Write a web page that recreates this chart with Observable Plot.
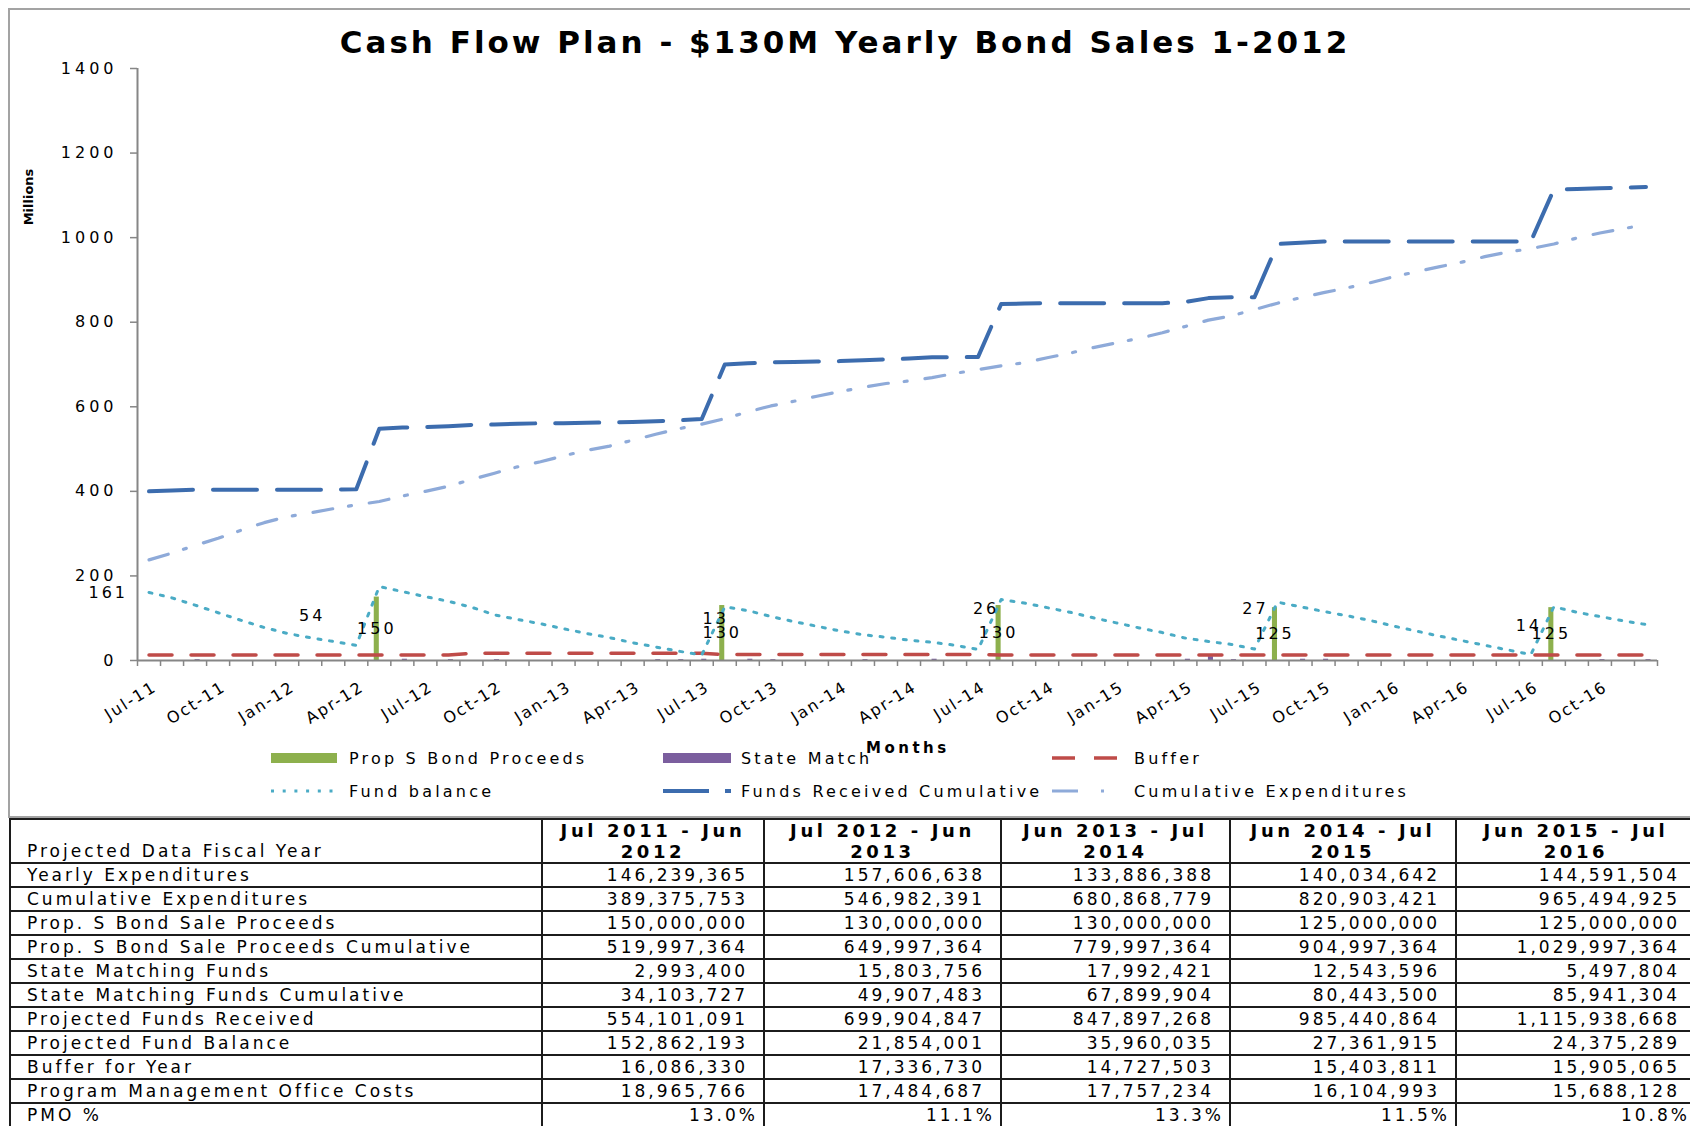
<!DOCTYPE html>
<html>
<head>
<meta charset="utf-8">
<script src="https://cdn.jsdelivr.net/npm/d3@7"></script>
<script src="https://cdn.jsdelivr.net/npm/@observablehq/plot@0.6"></script>
<style>
  html, body { margin: 0; padding: 0; background: #fff; }
  #page { position: relative; width: 1690px; height: 1126px; overflow: hidden; background: #fff; }
  #frame { position: absolute; left: 8px; top: 8px; width: 1730px; height: 810px; border: 2px solid #a3a3a3; box-sizing: border-box; }
  #title { position: absolute; left: 0; top: 27px; width: 1690px; text-align: center; font: 700 31px/30px "DejaVu Sans", sans-serif; letter-spacing: 3px; color: #000; white-space: nowrap; }
  #plot { position: absolute; left: 0; top: 0; }
  #overlay { position: absolute; left: 0; top: 0; pointer-events: none; }
  #tbl { position: absolute; left: 9px; top: 818px; border-collapse: collapse; table-layout: fixed; width: 1686px;
         font-family: "DejaVu Sans", sans-serif; font-size: 17px; letter-spacing: 3px; color: #000; }
  #tbl td { border: 2px solid #1c1c1c; height: 22px; line-height: 22px; padding: 0 15px 0 16px; white-space: nowrap; overflow: hidden; }
  #tbl td.num { text-align: right; }
  #tbl td.pct { text-align: right; padding-right: 5px; }
  #tbl tr.head td { height: 42px; line-height: 21px; }
  #tbl tr.head td.yr { font-weight: 700; font-size: 18px; letter-spacing: 3.6px; text-align: center; vertical-align: bottom; padding: 0; white-space: normal; }
  #tbl tr.head td.lab { vertical-align: bottom; }
</style>
</head>
<body>
<div id="page">
  <div id="frame"></div>
  <div id="title">Cash Flow Plan - $130M Yearly Bond Sales 1-2012</div>
  <div id="plot"></div>
  <svg id="overlay" width="1690" height="820"></svg>
</div>
<script>
// ---------------- DATA (millions) ----------------
const months = ["Jul-11","Aug-11","Sep-11","Oct-11","Nov-11","Dec-11",
  "Jan-12","Feb-12","Mar-12","Apr-12","May-12","Jun-12","Jul-12","Aug-12","Sep-12","Oct-12","Nov-12","Dec-12",
  "Jan-13","Feb-13","Mar-13","Apr-13","May-13","Jun-13","Jul-13","Aug-13","Sep-13","Oct-13","Nov-13","Dec-13",
  "Jan-14","Feb-14","Mar-14","Apr-14","May-14","Jun-14","Jul-14","Aug-14","Sep-14","Oct-14","Nov-14","Dec-14",
  "Jan-15","Feb-15","Mar-15","Apr-15","May-15","Jun-15","Jul-15","Aug-15","Sep-15","Oct-15","Nov-15","Dec-15",
  "Jan-16","Feb-16","Mar-16","Apr-16","May-16","Jun-16","Jul-16","Aug-16","Sep-16","Oct-16","Nov-16","Dec-16"];

const xTickLabels = ["Jul-11","Oct-11","Jan-12","Apr-12","Jul-12","Oct-12","Jan-13","Apr-13","Jul-13","Oct-13","Jan-14",
  "Apr-14","Jul-14","Oct-14","Jan-15","Apr-15","Jul-15","Oct-15","Jan-16","Apr-16","Jul-16","Oct-16"];
const yTicks = [0, 200, 400, 600, 800, 1000, 1200, 1400];

const fundsReceivedCumulative = [400,402,404,404,404,404,404,404,404,405,
  548,551,552,554,557,558,560,561,561,562,
  563,564,566,568,571,700,703,705,706,707,
  708,710,712,714,717,717,718,843,844,845,
  845,845,845,845,845,848,857,859,859,985,
  988,991,991,991,991,991,991,991,991,991,
  991,1114,1115,1117,1118,1120];

const cumulativeExpenditures = [238,254,272,289,308,326,340,349,359,368,
  376,389,400,412,428,443,458,470,484,497,
  507,521,535,548,559,572,588,602,613,625,
  636,646,655,661,669,679,688,697,704,716,
  727,740,751,762,775,790,805,815,830,845,
  858,870,881,893,907,919,931,942,955,966,
  974,985,999,1011,1021,1031];

const fundBalance = [161,148,131,113,95,78,64,54,45,36,
  175,163,151,140,126,108,97,87,75,64,
  54,42,32,22,13,127,118,104,92,81,
  70,61,55,48,43,36,26,144,136,125,
  114,101,89,77,66,53,45,38,27,138,
  127,116,106,95,82,70,58,47,36,25,
  14,127,114,104,94,85];

const bufferLine = [13,13,13,13,13,13,13,13,13,13,13,13,13,13,
  17,17,17,17,17,17,17,17,17,17,17,
  14,14,14,14,14,14,14,14,14,14,14,14,
  13,13,13,13,13,13,13,13,13,13,13,13,
  13,13,13,13,13,13,13,13,13,13,13,13,
  13,13,13,13,13];

const propSMonths = ["May-12","Aug-13","Aug-14","Aug-15","Aug-16"];
const propSProceeds = [150, 130, 130, 125, 125];

const stateMatchMonths = ["Sep-11","Jun-12","Aug-12","Oct-12","May-13","Jun-13","Jul-13","Sep-13","Oct-13","Feb-14","May-14","Apr-15","May-15","Jun-15","Sep-15","Oct-15","Oct-16","Dec-16"];
const stateMatchValues = [2,3,2,2,2,2,3,3,2,2,3,3,9,2,3,3,2,2];

const fundBalanceLabelMonths = ["Jul-11","Feb-12","Jul-13","Jul-14","Jul-15","Jul-16"];

const legendLabels = ["Prop S Bond Proceeds","State Match","Buffer","Fund balance","Funds Received Cumulative","Cumulative Expenditures"];
const xAxisTitle = "Months";
const yAxisTitle = "Millions";

// table
const tableColumns = [["Jul 2011 - Jun","2012"],["Jul 2012 - Jun","2013"],["Jun 2013 - Jul","2014"],["Jun 2014 - Jul","2015"],["Jun 2015 - Jul","2016"]];
const rowLabels = ["Yearly Expenditures","Cumulative Expenditures","Prop. S Bond Sale Proceeds","Prop. S Bond Sale Proceeds Cumulative",
  "State Matching Funds","State Matching Funds Cumulative","Projected Funds Received","Projected Fund Balance","Buffer for Year",
  "Program Management Office Costs","PMO %"];
const yearlyExpenditures = [146239365,157606638,133886388,140034642,144591504];
const cumulativeExpendituresYear = [389375753,546982391,680868779,820903421,965494925];
const bondSaleProceeds = [150000000,130000000,130000000,125000000,125000000];
const bondSaleProceedsCumulative = [519997364,649997364,779997364,904997364,1029997364];
const stateMatchingFunds = [2993400,15803756,17992421,12543596,5497804];
const stateMatchingFundsCumulative = [34103727,49907483,67899904,80443500,85941304];
const projectedFundsReceived = [554101091,699904847,847897268,985440864,1115938668];
const projectedFundBalance = [152862193,21854001,35960035,27361915,24375289];
const bufferForYear = [16086330,17336730,14727503,15403811,15905065];
const pmoCosts = [18965766,17484687,17757234,16104993,15688128];
const pmoPercent = [13.0,11.1,13.3,11.5,10.8];

// ---------------- STYLES ----------------
const C = { prop: "#8db04d", state: "#7b5e9e", buffer: "#bf4b48", fb: "#4aabc5", fr: "#3c6cae", ce: "#8eaad9", axis: "#868686" };
const seriesStyle = {
  "Prop S Bond Proceeds": {kind: "bar", color: C.prop},
  "State Match": {kind: "bar", color: C.state},
  "Buffer": {kind: "line", color: C.buffer, width: 3.5, dash: "23,19"},
  "Fund balance": {kind: "line", color: C.fb, width: 3, dash: "3,8.7"},
  "Funds Received Cumulative": {kind: "line", color: C.fr, width: 4, dash: "46,16"},
  "Cumulative Expenditures": {kind: "line", color: C.ce, width: 3.2, dash: "26,23,3,23,3,100"}
};

// ---------------- BUILD ROWS ----------------
const idx = new Map(months.map((m, i) => [m, i]));
const rows = months.map((m, i) => ({
  i, month: m,
  fr: fundsReceivedCumulative[i], ce: cumulativeExpenditures[i], fb: fundBalance[i], buffer: bufferLine[i]
}));
const propRows = propSMonths.map((m, k) => ({i: idx.get(m), month: m, value: propSProceeds[k]}));
const stateRows = stateMatchMonths.map((m, k) => ({i: idx.get(m), month: m, value: stateMatchValues[k]}));
const tickRows = xTickLabels.map(m => ({i: idx.get(m), month: m}));

const BW = 0.22; // bar width in category units
const X = d => d.i + 0.5;

const labelNudge = {"Jul-11": [-21, 0, "end"], "Feb-12": [2, -22, "middle"], "Jul-13": [14, -36, "middle"],
                    "Jul-14": [8, -41, "middle"], "Jul-15": [1, -40, "middle"], "Jul-16": [-2, -29, "middle"]};
const fbLabelMarks = fundBalanceLabelMonths.map(m => {
  const [dx, dy, anchor] = labelNudge[m];
  return Plot.text(rows.filter(r => r.month === m), {x: X, y: "fb", text: d => String(d.fb), dx, dy, textAnchor: anchor, fill: "#000", ariaLabel: "fb-label"});
});

const chart = Plot.plot({
  width: 1690, height: 720,
  marginTop: 68, marginLeft: 137, marginRight: 33, marginBottom: 60,
  x: {domain: [0, months.length]},
  y: {domain: [0, 1400]},
  style: {fontFamily: "DejaVu Sans, sans-serif", fontSize: "16px", color: "#000", background: "transparent", overflow: "visible"},
  marks: [
    Plot.rectY(propRows, {x1: d => d.i + 0.5 - BW, x2: d => d.i + 0.5, y: "value", fill: C.prop}),
    Plot.rectY(stateRows, {x1: d => d.i + 0.5, x2: d => d.i + 0.5 + BW, y: "value", fill: C.state}),
    Plot.line(rows, {x: X, y: "buffer", stroke: C.buffer, strokeWidth: 3.5, strokeDasharray: "23,19"}),
    Plot.line(rows, {x: X, y: "fb", stroke: C.fb, strokeWidth: 3, strokeDasharray: "3,8.7"}),
    Plot.line(rows, {x: X, y: "ce", stroke: C.ce, strokeWidth: 3.2, strokeDasharray: "20,16,3,18"}),
    Plot.line(rows, {x: X, y: "fr", stroke: C.fr, strokeWidth: 4, strokeDasharray: "44,20"}),
    Plot.ruleX([0], {stroke: C.axis, strokeWidth: 2}),
    Plot.ruleY([0], {stroke: C.axis, strokeWidth: 2}),
    Plot.axisY({ticks: yTicks, tickSize: 7, tickPadding: 13, tickFormat: "d", stroke: C.axis, strokeWidth: 1.5}),
    Plot.axisX({ticks: d3.range(0, months.length + 1), tickSize: 6, tickFormat: () => "", stroke: C.axis, strokeWidth: 1.5}),
    Plot.text(tickRows, {x: X, y: () => 0, text: "month", rotate: -32, textAnchor: "end", dx: 6, dy: 25, fill: "#000"}),
    Plot.text(propRows, {x: d => d.i + 0.5 - BW / 2, y: d => d.value / 2, text: d => String(d.value), fill: "#000"}),
    ...fbLabelMarks
  ]
});
document.getElementById("plot").appendChild(chart);
// letter spacing per text kind (Excel renders these text runs wide)
chart.querySelectorAll("text").forEach(t => {
  const s = t.textContent;
  let ls = "3px";
  if (/^[A-Z][a-z]{2}-\d\d$/.test(s)) ls = "2px";
  else if (yTicks.map(String).includes(s) && t.closest("g") && t.closest("g").getAttribute("text-anchor") === "end") ls = "4px";
  t.style.letterSpacing = ls;
});

// ---------------- LEGEND + AXIS TITLES (overlay) ----------------
const ov = d3.select("#overlay");
const colSwatchX = [271, 663, 1052], colSwatchW = [66, 68, 72], colTextX = [349, 741, 1134], rowY = [758, 791];
legendLabels.forEach((lab, k) => {
  const col = k % 3, row = Math.floor(k / 3), st = seriesStyle[lab];
  const y = rowY[row];
  if (st.kind === "bar") {
    ov.append("rect").attr("x", colSwatchX[col]).attr("y", y - 5).attr("width", colSwatchW[col]).attr("height", 10).attr("fill", st.color);
  } else {
    ov.append("line").attr("x1", colSwatchX[col]).attr("x2", colSwatchX[col] + colSwatchW[col]).attr("y1", y).attr("y2", y)
      .attr("stroke", st.color).attr("stroke-width", st.width).attr("stroke-dasharray", st.dash);
  }
  ov.append("text").attr("x", colTextX[col]).attr("y", y).attr("dy", "0.35em").text(lab)
    .style("font-family", "DejaVu Sans, sans-serif").style("font-size", "16px").style("letter-spacing", "3.2px").attr("fill", "#000");
});
ov.append("text").attr("x", 866).attr("y", 753).text(xAxisTitle)
  .style("font-family", "DejaVu Sans, sans-serif").style("font-size", "15px").style("font-weight", "bold").style("letter-spacing", "3.5px").attr("fill", "#000");
ov.append("text").attr("transform", "translate(33,197) rotate(-90)").attr("text-anchor", "middle").text(yAxisTitle)
  .style("font-family", "DejaVu Sans, sans-serif").style("font-size", "13px").style("font-weight", "bold").attr("fill", "#000");

// ---------------- TABLE ----------------
const fmt = d3.format(",");
const tableData = [yearlyExpenditures, cumulativeExpendituresYear, bondSaleProceeds, bondSaleProceedsCumulative,
  stateMatchingFunds, stateMatchingFundsCumulative, projectedFundsReceived, projectedFundBalance, bufferForYear, pmoCosts, pmoPercent];
const tbl = d3.select("#page").append("table").attr("id", "tbl");
const cg = tbl.append("colgroup");
[532, 222, 237, 229, 226, 240].forEach(w => cg.append("col").style("width", w + "px"));
const hr = tbl.append("tr").attr("class", "head");
hr.append("td").attr("class", "lab").text("Projected Data Fiscal Year");
tableColumns.forEach(c => hr.append("td").attr("class", "yr").html(c[0] + "<br>" + c[1]));
rowLabels.forEach((lab, r) => {
  const tr = tbl.append("tr");
  tr.append("td").text(lab);
  tableData[r].forEach(v => {
    const isPct = lab === "PMO %";
    tr.append("td").attr("class", isPct ? "pct" : "num").text(isPct ? d3.format(".1f")(v) + "%" : fmt(v));
  });
});
</script>
</body>
</html>
